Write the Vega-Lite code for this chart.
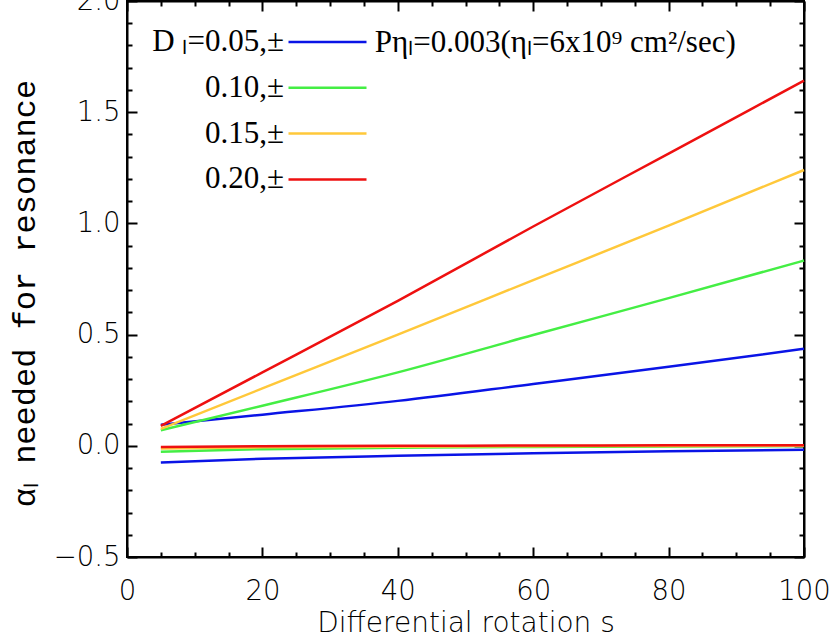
{
  "$schema": "https://vega.github.io/schema/vega-lite/v6.json",
  "width": 677,
  "height": 556,
  "autosize": {"type": "none"},
  "padding": {"left": 127, "top": 1, "right": 26, "bottom": 81},
  "background": "white",
  "config": {
    "view": {"stroke": "black", "strokeWidth": 2},
    "axis": {
      "domainColor": "black", "domainWidth": 2, "tickColor": "black", "tickWidth": 2, "grid": false,
      "labelFont": "DejaVu Sans", "labelFontWeight": 200, "labelFontSize": 27.5, "labelColor": "black",
      "titleFont": "DejaVu Sans", "titleFontWeight": 200, "titleFontSize": 28, "titleColor": "black",
      "labelOverlap": false, "labelFlush": false
    }
  },
  "datasets": {
    "curves": [
      {"D": "D ₗ=0.05,±", "branch": "upper", "s": 5, "alpha": 0.095},
      {"D": "D ₗ=0.05,±", "branch": "upper", "s": 20, "alpha": 0.14},
      {"D": "D ₗ=0.05,±", "branch": "upper", "s": 40, "alpha": 0.202},
      {"D": "D ₗ=0.05,±", "branch": "upper", "s": 60, "alpha": 0.278},
      {"D": "D ₗ=0.05,±", "branch": "upper", "s": 80, "alpha": 0.355},
      {"D": "D ₗ=0.05,±", "branch": "upper", "s": 100, "alpha": 0.436},
      {"D": "D ₗ=0.05,±", "branch": "lower", "s": 5, "alpha": -0.075},
      {"D": "D ₗ=0.05,±", "branch": "lower", "s": 20, "alpha": -0.058},
      {"D": "D ₗ=0.05,±", "branch": "lower", "s": 40, "alpha": -0.045},
      {"D": "D ₗ=0.05,±", "branch": "lower", "s": 60, "alpha": -0.034},
      {"D": "D ₗ=0.05,±", "branch": "lower", "s": 80, "alpha": -0.025},
      {"D": "D ₗ=0.05,±", "branch": "lower", "s": 100, "alpha": -0.018},
      {"D": "0.10,±", "branch": "upper", "s": 5, "alpha": 0.07},
      {"D": "0.10,±", "branch": "upper", "s": 20, "alpha": 0.18},
      {"D": "0.10,±", "branch": "upper", "s": 40, "alpha": 0.33},
      {"D": "0.10,±", "branch": "upper", "s": 60, "alpha": 0.498},
      {"D": "0.10,±", "branch": "upper", "s": 80, "alpha": 0.664},
      {"D": "0.10,±", "branch": "upper", "s": 100, "alpha": 0.833},
      {"D": "0.10,±", "branch": "lower", "s": 5, "alpha": -0.027},
      {"D": "0.10,±", "branch": "lower", "s": 20, "alpha": -0.015},
      {"D": "0.10,±", "branch": "lower", "s": 40, "alpha": -0.009},
      {"D": "0.10,±", "branch": "lower", "s": 60, "alpha": -0.005},
      {"D": "0.10,±", "branch": "lower", "s": 80, "alpha": -0.003},
      {"D": "0.10,±", "branch": "lower", "s": 100, "alpha": -0.001},
      {"D": "0.15,±", "branch": "upper", "s": 5, "alpha": 0.076},
      {"D": "0.15,±", "branch": "upper", "s": 20, "alpha": 0.258},
      {"D": "0.15,±", "branch": "upper", "s": 40, "alpha": 0.5},
      {"D": "0.15,±", "branch": "upper", "s": 60, "alpha": 0.745},
      {"D": "0.15,±", "branch": "upper", "s": 80, "alpha": 0.99},
      {"D": "0.15,±", "branch": "upper", "s": 100, "alpha": 1.24},
      {"D": "0.15,±", "branch": "lower", "s": 5, "alpha": -0.012},
      {"D": "0.15,±", "branch": "lower", "s": 20, "alpha": -0.007},
      {"D": "0.15,±", "branch": "lower", "s": 40, "alpha": -0.004},
      {"D": "0.15,±", "branch": "lower", "s": 60, "alpha": -0.002},
      {"D": "0.15,±", "branch": "lower", "s": 80, "alpha": -0.001},
      {"D": "0.15,±", "branch": "lower", "s": 100, "alpha": 0.0},
      {"D": "0.20,±", "branch": "upper", "s": 5, "alpha": 0.09},
      {"D": "0.20,±", "branch": "upper", "s": 20, "alpha": 0.33},
      {"D": "0.20,±", "branch": "upper", "s": 40, "alpha": 0.652},
      {"D": "0.20,±", "branch": "upper", "s": 60, "alpha": 0.986},
      {"D": "0.20,±", "branch": "upper", "s": 80, "alpha": 1.314},
      {"D": "0.20,±", "branch": "upper", "s": 100, "alpha": 1.642},
      {"D": "0.20,±", "branch": "lower", "s": 5, "alpha": -0.005},
      {"D": "0.20,±", "branch": "lower", "s": 20, "alpha": -0.002},
      {"D": "0.20,±", "branch": "lower", "s": 40, "alpha": 0.0},
      {"D": "0.20,±", "branch": "lower", "s": 60, "alpha": 0.001},
      {"D": "0.20,±", "branch": "lower", "s": 80, "alpha": 0.002},
      {"D": "0.20,±", "branch": "lower", "s": 100, "alpha": 0.003}
    ]
  },
  "layer": [
    {
      "data": {"name": "curves"},
      "mark": {"type": "line", "strokeWidth": 2.5, "interpolate": "monotone"},
      "encoding": {
        "x": {
          "field": "s", "type": "quantitative",
          "scale": {"domain": [0, 100], "nice": false},
          "axis": {
            "orient": "bottom",
            "values": [0, 5, 10, 15, 20, 25, 30, 35, 40, 45, 50, 55, 60, 65, 70, 75, 80, 85, 90, 95, 100],
            "labelExpr": "datum.value % 20 === 0 ? datum.label : ''",
            "tickSize": {"condition": {"test": "datum.value % 20 === 0", "value": -10}, "value": -5},
            "labelPadding": 30,
            "title": "Differential rotation s",
            "titlePadding": 0
          }
        },
        "y": {
          "field": "alpha", "type": "quantitative",
          "scale": {"domain": [-0.5, 2.0], "nice": false, "zero": false},
          "axis": {
            "orient": "left",
            "values": [-0.5, -0.4, -0.3, -0.2, -0.1, 0, 0.1, 0.2, 0.3, 0.4, 0.5, 0.6, 0.7, 0.8, 0.9, 1.0, 1.1, 1.2, 1.3, 1.4, 1.5, 1.6, 1.7, 1.8, 1.9, 2.0],
            "labelExpr": "abs(datum.value*2 - round(datum.value*2)) < 0.001 ? format(datum.value, '.1f') : ''",
            "tickSize": {"condition": {"test": "abs(datum.value*2 - round(datum.value*2)) < 0.001", "value": -10}, "value": -5},
            "labelPadding": 17,
            "title": "αₗ needed for resonance",
            "titleFont": "Liberation Mono",
            "titleFontWeight": "normal",
            "titleFontSize": 32,
            "titleY": 292,
            "titlePadding": 12
          }
        },
        "color": {
          "field": "D", "type": "nominal",
          "sort": ["D ₗ=0.05,±", "0.10,±", "0.15,±", "0.20,±"],
          "scale": {"domain": ["D ₗ=0.05,±", "0.10,±", "0.15,±", "0.20,±"], "range": ["#0a14e6", "#44ee44", "#ffc83a", "#ee1010"]},
          "legend": {
            "orient": "none", "legendX": 160, "legendY": 25, "title": null,
            "symbolType": "stroke", "symbolSize": 6084, "symbolStrokeWidth": 2.5,
            "labelAlign": "right", "labelOffset": -84, "labelBaseline": "middle",
            "labelFont": "Liberation Serif", "labelFontSize": 31, "labelColor": "black",
            "rowPadding": 14.8, "padding": 0, "labelLimit": 400,
            "encode": {
              "symbols": {"update": {"y": {"value": 16}}},
              "labels": {"update": {"y": {"value": 16}}}
            }
          }
        },
        "detail": {"field": "branch", "type": "nominal"}
      }
    },
    {
      "data": {"values": [{"note": "Pηₗ=0.003(ηₗ=6x10⁹ cm²/sec)"}]},
      "mark": {"type": "text", "align": "left", "baseline": "middle", "font": "Liberation Serif", "fontSize": 31, "color": "black"},
      "encoding": {
        "x": {
          "datum": 36.6, "type": "quantitative",
          "axis": {
            "orient": "top", "labels": false, "title": null,
            "values": [0, 5, 10, 15, 20, 25, 30, 35, 40, 45, 50, 55, 60, 65, 70, 75, 80, 85, 90, 95, 100],
            "tickSize": {"condition": {"test": "datum.value % 20 === 0", "value": -10}, "value": -5}
          }
        },
        "y": {
          "datum": 1.813, "type": "quantitative",
          "axis": {
            "orient": "right", "labels": false, "title": null,
            "values": [-0.5, -0.4, -0.3, -0.2, -0.1, 0, 0.1, 0.2, 0.3, 0.4, 0.5, 0.6, 0.7, 0.8, 0.9, 1.0, 1.1, 1.2, 1.3, 1.4, 1.5, 1.6, 1.7, 1.8, 1.9, 2.0],
            "tickSize": {"condition": {"test": "abs(datum.value*2 - round(datum.value*2)) < 0.001", "value": -10}, "value": -5}
          }
        },
        "text": {"field": "note", "type": "nominal"}
      }
    }
  ],
  "resolve": {"axis": {"x": "independent", "y": "independent"}}
}
